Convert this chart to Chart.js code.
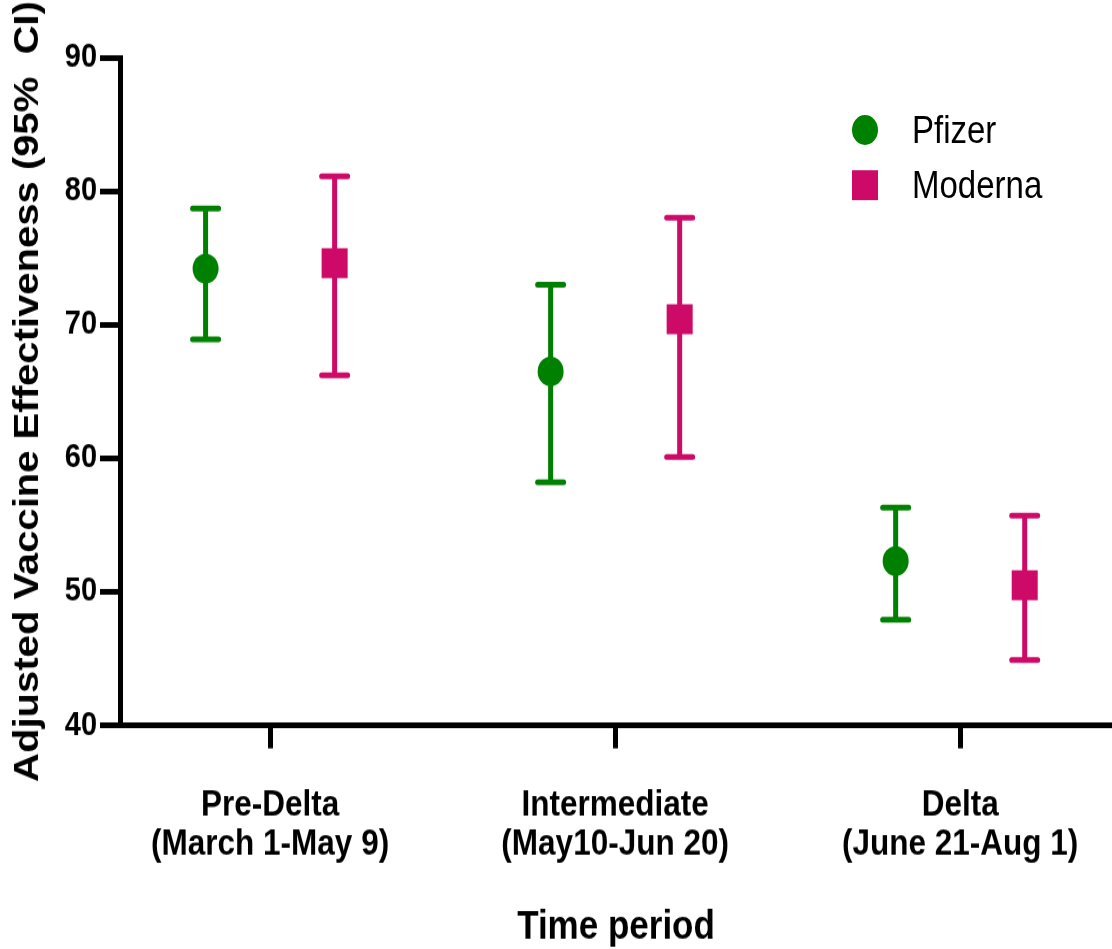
<!DOCTYPE html>
<html>
<head>
<meta charset="utf-8">
<script src="https://cdn.jsdelivr.net/npm/chart.js@4.4.1/dist/chart.umd.min.js"></script>
<style>
  html { margin: 0; padding: 0; background: #fff; overflow: hidden; }
  body { margin: 0; padding: 0; background: #fff; width: 1112px; height: 949px; }
  #wrap { position: relative; width: 1112px; height: 825px; transform: scaleY(1.1503); transform-origin: 0 0; }
  #c { position: absolute; left: 0; top: 0; width: 1112px; height: 825px; }
  .lg-mark { position: absolute; width: 26px; height: 26px; }
  .lg-text { position: absolute; font-family: 'Liberation Sans', Arial, sans-serif; font-size: 33px; color: #000; line-height: 36px; white-space: nowrap; }
</style>
</head>
<body>
<div id="wrap">
  <canvas id="c" width="1112" height="825"></canvas>
  <div class="lg-mark" style="left:852px;top:100px;border-radius:50%;background:#008000;"></div>
  <div class="lg-text" style="left:912px;top:95px;">Pfizer</div>
  <div class="lg-mark" style="left:852px;top:148px;background:#CD0A68;"></div>
  <div class="lg-text" style="left:912px;top:143px;">Moderna</div>
</div>
<script>
// ---- data ----
const categories = [
  ["Pre-Delta", "(March 1-May 9)"],
  ["Intermediate", "(May10-Jun 20)"],
  ["Delta", "(June 21-Aug 1)"]
];
const seriesNames = ["Pfizer", "Moderna"];
const pfizerVE   = [74.2, 66.5, 52.3];
const pfizerLow  = [68.9, 58.2, 47.9];
const pfizerHigh = [78.7, 73.0, 56.3];
const modernaVE   = [74.6, 70.4, 50.5];
const modernaLow  = [66.2, 60.1, 44.9];
const modernaHigh = [81.1, 78.0, 55.7];
const yTickValues = [40, 50, 60, 70, 80, 90];
const xTitle = "Time period";
const yTitle = "Adjusted Vaccine Effectiveness (95%  CI)";

// ---- styling / positions ----
const GREEN = "#008000";
const MAGENTA = "#CD0A68";
const OFFSET = 0.187;
const FONT = "'Liberation Sans', Arial, sans-serif";

const toPoints = (vals, off) => vals.map((v, i) => ({ x: i + 1 + off, y: v }));

const errorBars = {
  id: "errorBars",
  beforeDatasetsDraw(chart) {
    const { ctx, scales: { x, y } } = chart;
    chart.data.datasets.forEach((ds) => {
      ctx.save();
      ctx.strokeStyle = ds.backgroundColor;
      ctx.lineWidth = 5;
      ctx.lineCap = "round";
      ds.data.forEach((p, i) => {
        const px = x.getPixelForValue(p.x);
        const yl = y.getPixelForValue(ds.errLow[i]);
        const yh = y.getPixelForValue(ds.errHigh[i]);
        ctx.beginPath();
        ctx.moveTo(px, yl); ctx.lineTo(px, yh);
        ctx.moveTo(px - 13, yl); ctx.lineTo(px + 13, yl);
        ctx.moveTo(px - 13, yh); ctx.lineTo(px + 13, yh);
        ctx.stroke();
      });
      ctx.restore();
    });
  }
};

Chart.defaults.font.family = FONT;
Chart.defaults.color = "#000";

new Chart(document.getElementById("c"), {
  type: "scatter",
  data: {
    datasets: [
      {
        label: seriesNames[0],
        data: toPoints(pfizerVE, -OFFSET),
        errLow: pfizerLow, errHigh: pfizerHigh,
        backgroundColor: GREEN, borderColor: GREEN,
        pointStyle: "circle", pointRadius: 13, pointBorderWidth: 0, pointHoverRadius: 13
      },
      {
        label: seriesNames[1],
        data: toPoints(modernaVE, OFFSET),
        errLow: modernaLow, errHigh: modernaHigh,
        backgroundColor: MAGENTA, borderColor: MAGENTA,
        pointStyle: "rect", pointRadius: 18.4, pointBorderWidth: 0, pointHoverRadius: 18.4
      }
    ]
  },
  options: {
    responsive: false,
    animation: false,
    devicePixelRatio: 1,
    layout: { autoPadding: false, padding: { left: 0, right: 0, top: 50, bottom: 0 } },
    plugins: { legend: { display: false }, tooltip: { enabled: false } },
    scales: {
      x: {
        type: "linear",
        min: 0.565,
        max: 3.44,
        afterBuildTicks: (axis) => { axis.ticks = categories.map((_, i) => ({ value: i + 1 })); },
        afterFit: (axis) => { axis.paddingLeft = 0; axis.paddingRight = 0; },
        ticks: {
          autoSkip: false,
          maxRotation: 0,
          padding: 32,
          font: { size: 31.5, weight: "bold", lineHeight: 1.1 },
          color: "#000",
          callback: (v) => categories[Math.round(v) - 1]
        },
        grid: { drawOnChartArea: false, drawTicks: true, tickLength: 20, lineWidth: 5, tickWidth: 5, color: "#000" },
        border: { display: true, color: "#000", width: 5 },
        title: {
          display: true, text: xTitle, color: "#000",
          font: { size: 35, weight: "bold", lineHeight: 1.06 },
          padding: { top: 4, bottom: 0 }
        }
      },
      y: {
        type: "linear",
        min: 40,
        max: 90,
        afterBuildTicks: (axis) => { axis.ticks = yTickValues.map((v) => ({ value: v })); },
        ticks: { padding: 3, font: { size: 29, weight: "bold" }, color: "#000" },
        grid: { drawOnChartArea: false, drawTicks: true, tickLength: 20, lineWidth: 5, tickWidth: 5, color: "#000" },
        border: { display: true, color: "#000", width: 5 },
        title: {
          display: true, text: yTitle, color: "#000",
          font: { size: 34.8, weight: "bold", lineHeight: 1.2 },
          padding: { top: 7.5, bottom: 12.5 }
        }
      }
    }
  },
  plugins: [errorBars]
});
</script>
</body>
</html>
